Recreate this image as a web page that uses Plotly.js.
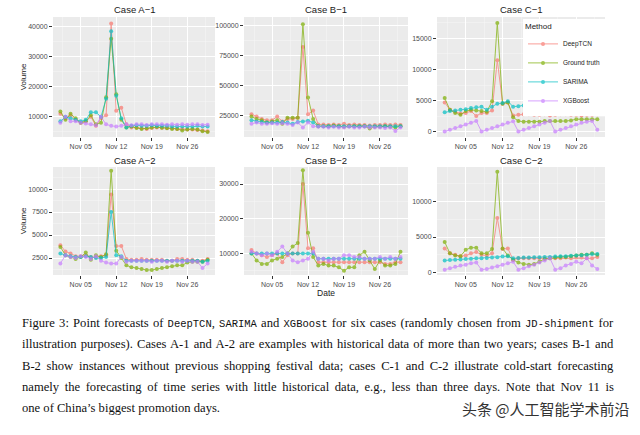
<!DOCTYPE html>
<html><head><meta charset="utf-8">
<script src="https://cdn.plot.ly/plotly-3.0.1.min.js"></script>
<style>html,body{margin:0;padding:0;background:#fff}#chart{width:640px;height:435px}</style>
</head><body><div id="chart"></div>
<script>
const dates = ['2018-11-01','2018-11-02','2018-11-03','2018-11-04','2018-11-05','2018-11-06','2018-11-07','2018-11-08','2018-11-09','2018-11-10',
  '2018-11-11','2018-11-12','2018-11-13','2018-11-14','2018-11-15','2018-11-16','2018-11-17','2018-11-18','2018-11-19','2018-11-20',
  '2018-11-21','2018-11-22','2018-11-23','2018-11-24','2018-11-25','2018-11-26','2018-11-27','2018-11-28','2018-11-29','2018-11-30'];
const methods = ['DeepTCN', 'Ground truth', 'SARIMA', 'XGBoost'];
const caseTitles = ['Case A\u22121', 'Case B\u22121', 'Case C\u22121', 'Case A\u22122', 'Case B\u22122', 'Case C\u22122'];
const xTickVals = ['2018-11-05', '2018-11-12', '2018-11-19', '2018-11-26'];
const xTickText = ['Nov 05', 'Nov 12', 'Nov 19', 'Nov 26'];

// Case A-1
const a1DeepTCN = [11000, 9500, 10500, 9000, 8000, 8500, 10000, 7000, 9500, 10500, 41000, 12000, 13000, 7500, 6500, 6500, 6200, 6000, 6300, 6500, 6400, 6300, 6200, 6000, 6000, 5800, 5800, 5600, 5500, 5200];
const a1Truth    = [11800, 9000, 11000, 9500, 8000, 8500, 10500, 7500, 8000, 16500, 36000, 17500, 9000, 6500, 6800, 6300, 6000, 6200, 6500, 6600, 6400, 6200, 6000, 6000, 5500, 5800, 6000, 5800, 5200, 5000];
const a1Sarima   = [8500, 10000, 9500, 9000, 8500, 9000, 11500, 11500, 10000, 16000, 38500, 17000, 9500, 6500, 7000, 7200, 7000, 7000, 7200, 7000, 7000, 7000, 6800, 6800, 6800, 6800, 6800, 7000, 6800, 6800];
const a1Xgb      = [8000, 10000, 8500, 8500, 8000, 7800, 7500, 7200, 10000, 7500, 7000, 6800, 7000, 7500, 7200, 7500, 7500, 7300, 7500, 7500, 7500, 7400, 7500, 7400, 7500, 7400, 7500, 7500, 7300, 7400];
// Case B-1
const b1DeepTCN = [26000, 24000, 22000, 21000, 21000, 24000, 20000, 22000, 22000, 23000, 82000, 26000, 29000, 17500, 17500, 17000, 17500, 17000, 18000, 17000, 17500, 17000, 17000, 16500, 17000, 17000, 17500, 17000, 17500, 17000];
const b1Truth    = [24000, 22000, 21000, 19000, 20000, 21000, 18000, 23000, 23000, 23000, 101000, 40000, 22000, 16000, 16000, 16000, 16500, 16000, 15500, 16000, 16000, 16000, 16000, 14000, 15500, 15500, 16000, 15500, 15000, 16000];
const b1Sarima   = [21000, 20000, 19500, 19000, 19000, 19000, 19500, 19000, 18000, 19500, 20000, 20500, 19000, 16000, 16000, 16000, 16000, 16000, 16000, 16000, 16000, 16000, 16000, 16000, 16000, 16000, 16000, 16000, 16000, 16000];
const b1Xgb      = [18000, 19000, 18000, 18000, 18500, 18000, 18500, 18000, 17000, 19000, 15000, 19000, 16000, 15500, 15500, 15000, 15500, 15000, 15000, 15500, 15000, 15000, 15500, 15000, 15000, 15000, 14500, 15000, 12000, 15000];
// Case C-1
const c1DeepTCN = [4700, 3500, 3200, 2900, 3000, 3300, 2500, 3000, 3000, 3400, 11500, 4500, 4700, 2600, 2700, 2800, 2800, 2700, 2700, 2800, 2600, 2700, 2800, 2800, 2700, 2700, 2600, 2700, 2700, 2800];
const c1Truth    = [5400, 3500, 3000, 2700, 3300, 3500, 3400, 3300, 3200, 4900, 17500, 4500, 4700, 2300, 1700, 1600, 1600, 1600, 1600, 1700, 1700, 1700, 1700, 1700, 1800, 2000, 2000, 2000, 2000, 2000];
const c1Sarima   = [3100, 3300, 3400, 3500, 3600, 3800, 3900, 4000, 3500, 4000, 4500, 4600, 4900, 4000, 4100, 4200, 4300, 4400, 4500, 4600, 4700, 4800, 4900, 5000, 5200, 5300, 5400, 5600, 5800, 6000];
const c1Xgb      = [0, 280, 560, 850, 1130, 1420, 1700, 0, 280, 560, 850, 1130, 1420, 1650, 0, 280, 560, 850, 1130, 1420, 1700, 0, 280, 560, 850, 1130, 1420, 1600, 1700, 300];
// Case A-2
const a2DeepTCN = [3900, 3200, 3000, 2700, 2700, 2800, 2600, 2600, 2700, 2800, 9400, 3800, 3800, 2400, 2300, 2300, 2400, 2300, 2300, 2300, 2300, 2200, 2200, 2400, 2400, 2300, 2300, 2200, 2200, 2400];
const a2Truth    = [3700, 2800, 2600, 2400, 2600, 3100, 2300, 2800, 2600, 2900, 12000, 3300, 2500, 1700, 1500, 1400, 1300, 1200, 1200, 1300, 1400, 1500, 1600, 1700, 1700, 2000, 2100, 2100, 2100, 2300];
const a2Sarima   = [3000, 2800, 2700, 2600, 2600, 2700, 2600, 2500, 2500, 2600, 7500, 2800, 2700, 2200, 2200, 2200, 2200, 2200, 2200, 2200, 2200, 2200, 2200, 2200, 2200, 2200, 2200, 2200, 2100, 2200];
const a2Xgb      = [1900, 2800, 2600, 2500, 2700, 2600, 2400, 2700, 2200, 2000, 1900, 1900, 2600, 2100, 2200, 2200, 2200, 2200, 2100, 2200, 2200, 2100, 2200, 2200, 2100, 2200, 2100, 2100, 1400, 1900];
// Case B-2
const b2DeepTCN = [11000, 10000, 9500, 9000, 9500, 10000, 7500, 9500, 10000, 10000, 30000, 11500, 11500, 7500, 7500, 7500, 7500, 7500, 7500, 7500, 7500, 7500, 7500, 7500, 7500, 7500, 7000, 7000, 7500, 7500];
const b2Truth    = [10000, 8000, 7000, 7000, 8000, 8500, 9000, 10000, 12000, 13000, 34000, 16000, 9000, 6500, 7000, 6500, 6500, 6000, 5000, 6000, 6000, 9500, 10500, 8000, 5500, 8000, 6500, 6500, 7000, 10500];
const b2Sarima   = [10000, 10000, 10000, 10000, 10000, 10000, 10000, 10000, 10000, 10000, 10000, 10000, 10000, 8500, 8500, 8500, 8500, 8500, 8500, 8500, 8500, 8500, 8500, 8500, 8500, 8500, 8500, 8500, 8500, 8500];
const b2Xgb      = [10500, 10000, 9500, 10000, 9500, 10500, 12000, 10000, 8000, 7500, 8000, 8500, 10500, 8500, 8500, 8000, 8500, 8500, 9500, 9500, 9000, 9000, 8500, 8500, 8500, 9000, 8500, 9000, 8500, 9000];
// Case C-2
const c2DeepTCN = [3400, 2700, 2500, 2300, 2400, 2700, 2900, 2500, 2400, 2700, 7700, 3300, 3400, 1800, 2000, 2000, 2000, 2000, 2000, 2000, 2000, 2000, 2000, 2100, 2000, 2100, 2100, 2000, 2000, 2200];
const c2Truth    = [4300, 2700, 2400, 2300, 3200, 3500, 3500, 2700, 2700, 3300, 14200, 3400, 2400, 1800, 1400, 1200, 1100, 1200, 1500, 1900, 2000, 2100, 2200, 2200, 2300, 2400, 2500, 2500, 2700, 2500];
const c2Sarima   = [1700, 1750, 1800, 1850, 1900, 1950, 2000, 2000, 2050, 2100, 2150, 2250, 2300, 2000, 2050, 2100, 2100, 2150, 2150, 2200, 2200, 2250, 2300, 2300, 2350, 2400, 2450, 2500, 2600, 2600];
const c2Xgb      = [400, 600, 800, 1000, 1100, 1300, 1400, 400, 500, 700, 900, 1100, 1300, 1500, 400, 600, 900, 1100, 1400, 1700, 2000, 400, 600, 1000, 1200, 1500, 1300, 2000, 1000, 500];

const caseSeries = [
  [a1DeepTCN, a1Truth, a1Sarima, a1Xgb],
  [b1DeepTCN, b1Truth, b1Sarima, b1Xgb],
  [c1DeepTCN, c1Truth, c1Sarima, c1Xgb],
  [a2DeepTCN, a2Truth, a2Sarima, a2Xgb],
  [b2DeepTCN, b2Truth, b2Sarima, b2Xgb],
  [c2DeepTCN, c2Truth, c2Sarima, c2Xgb]
];

// styling / layout (not data)
const colors = ['#F8766D', '#7CAE00', '#00BFC4', '#C77CFF'];
const W = 640, H = 435;
const colPx = [[53, 215], [244, 408], [437, 605]];
const rowPx = [[17, 137], [167, 275]];
const yRanges = [[3300, 43200], [7000, 107000], [-870, 18450], [650, 12400], [3800, 34900], [-350, 14870]];
const yDticks = [10000, 25000, 5000, 2500, 10000, 5000];

const traces = [];
const layout = {
  width: W, height: H,
  margin: {l: 0, r: 0, t: 0, b: 0},
  paper_bgcolor: '#FFFFFF',
  plot_bgcolor: '#EBEBEB',
  font: {family: 'Liberation Sans, Arial, sans-serif', color: '#1A1A1A'},
  showlegend: true,
  legend: {
    x: 605 / W, xanchor: 'right', y: 1 - 19 / H, yanchor: 'top',
    bgcolor: '#FFFFFF', borderwidth: 0,
    font: {size: 6.5, color: '#1A1A1A'},
    title: {text: 'Method', font: {size: 8, color: '#1A1A1A'}},
    itemwidth: 30, tracegroupgap: 0
  },
  annotations: [],
  hovermode: false
};

for (let k = 0; k < 6; k++) {
  const col = k % 3, row = Math.floor(k / 3);
  const id = k === 0 ? '' : String(k + 1);
  const xa = 'xaxis' + id, ya = 'yaxis' + id;
  const xDom = [colPx[col][0] / W, colPx[col][1] / W];
  const yDom = [1 - rowPx[row][1] / H, 1 - rowPx[row][0] / H];
  layout[xa] = {
    domain: xDom, anchor: 'y' + id, type: 'date',
    range: ['2018-10-30 13:00', '2018-12-01 11:00'],
    tickmode: 'array', tickvals: xTickVals, ticktext: xTickText,
    ticks: 'outside', ticklen: 3, tickwidth: 1, tickcolor: '#333333',
    tickfont: {size: 7, color: '#4D4D4D'},
    showgrid: true, gridcolor: '#FFFFFF', gridwidth: 1,
    minor: {tickmode: 'array', tickvals: ['2018-11-01 12:00', '2018-11-08 12:00', '2018-11-15 12:00', '2018-11-22 12:00', '2018-11-29 12:00'],
            showgrid: true, gridcolor: '#F7F7F7', gridwidth: 0.5, ticks: ''},
    zeroline: false, showline: false, fixedrange: true
  };
  layout[ya] = {
    domain: yDom, anchor: 'x' + id,
    range: yRanges[k], tick0: 0, dtick: yDticks[k], tickformat: 'd',
    ticks: 'outside', ticklen: 3, tickwidth: 1, tickcolor: '#333333',
    tickfont: {size: 7, color: '#4D4D4D'},
    showgrid: true, gridcolor: '#FFFFFF', gridwidth: 1,
    minor: {dtick: yDticks[k] / 2, tick0: 0, showgrid: true, gridcolor: '#F7F7F7', gridwidth: 0.5, ticks: ''},
    zeroline: false, showline: false, fixedrange: true
  };
  if (col === 0) {
    layout[ya].title = {text: 'Volume', font: {size: 8, color: '#1A1A1A'}, standoff: 0};
  }
  if (k === 4) {
    layout[xa].title = {text: 'Date', font: {size: 8.5, color: '#1A1A1A'}, standoff: 2};
  }
  layout.annotations.push({
    text: caseTitles[k], xref: 'x' + id + ' domain', yref: 'paper',
    x: 0.5, y: 1 - (rowPx[row][0] - 7) / H, xanchor: 'center', yanchor: 'middle',
    showarrow: false, font: {size: 9.5, color: '#1A1A1A'}
  });
  for (let m = 0; m < 4; m++) {
    traces.push({
      type: 'scatter', mode: 'lines+markers',
      x: dates, y: caseSeries[k][m],
      xaxis: 'x' + id, yaxis: 'y' + id,
      name: methods[m], legendgroup: methods[m], showlegend: k === 0,
      line: {color: colors[m], width: 1},
      marker: {color: colors[m], size: 4},
      opacity: 0.7
    });
  }
}

// caption
const mono = (s) => '<span style="font-family:Liberation Mono, DejaVu Sans Mono, monospace;font-size:10.5px">' + s + '</span>';
const captionLines = [
  'Figure 3: Point forecasts of ' + mono('DeepTCN') + ', ' + mono('SARIMA') + ' and ' + mono('XGBoost') + ' for six cases (randomly chosen from ' + mono('JD-shipment') + ' for',
  'illustration purposes). Cases A-1 and A-2 are examples with historical data of more than two years; cases B-1 and',
  'B-2 show instances without previous shopping festival data; cases C-1 and C-2 illustrate cold-start forecasting',
  'namely the forecasting of time series with little historical data, e.g., less than three days. Note that Nov 11 is',
  'one of China\u2019s biggest promotion days.'
];
const captionY = [323, 344, 366, 387, 408];
const captionStart = layout.annotations.length;
captionLines.forEach((t, i) => {
  layout.annotations.push({
    text: t, xref: 'paper', yref: 'paper', x: 20 / W, y: 1 - captionY[i] / H,
    xanchor: 'left', yanchor: 'middle', showarrow: false, align: 'left',
    font: {family: 'Liberation Serif, DejaVu Serif, serif', size: 12.6, color: '#111111'}
  });
});
layout.annotations.push({
  text: '头条 @人工智能学术前沿', xref: 'paper', yref: 'paper', x: 632 / W, y: 1 - 408 / H,
  xanchor: 'right', yanchor: 'middle', showarrow: false,
  font: {family: 'Noto Sans CJK SC, sans-serif', size: 15, color: '#333333'}
});

Plotly.newPlot('chart', traces, layout, {staticPlot: true, displayModeBar: false}).then(() => {
  // justify the first four caption lines to the text block width (like the LaTeX caption)
  const targetWidth = 612 - 20;
  document.querySelectorAll('g.annotation').forEach((g) => {
    const idx = +g.getAttribute('data-index');
    if (idx >= captionStart && idx < captionStart + 4) {
      const txt = g.querySelector('text.annotation-text');
      if (!txt) return;
      const w = txt.getBBox().width;
      const nSpaces = (txt.textContent.match(/ /g) || []).length;
      if (nSpaces > 0 && w < targetWidth) {
        txt.style.wordSpacing = ((targetWidth - w) / nSpaces).toFixed(2) + 'px';
      }
    }
  });
});
</script>
</body></html>
